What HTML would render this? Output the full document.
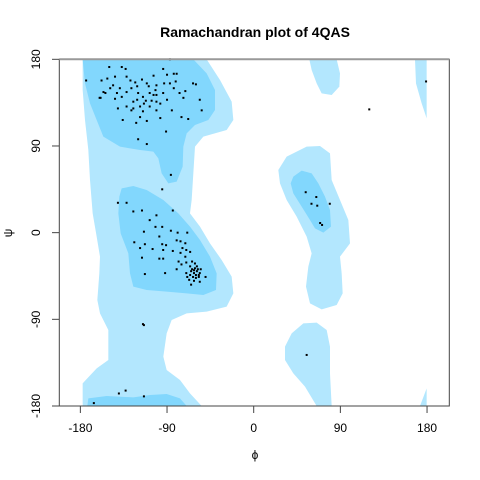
<!DOCTYPE html>
<html><head><meta charset="utf-8"><style>
body{margin:0;background:#fff}
svg{display:block;font-family:"Liberation Sans",Arial,sans-serif}
</style></head><body>
<svg id="chart" width="480" height="480" viewBox="0 0 480 480">
<text x="255" y="37" text-anchor="middle" font-size="14" font-weight="bold">Ramachandran plot of 4QAS</text>
<g transform="translate(0,40) scale(0.33333)">
<g fill="#b3e7fe">
<path d="M248,58 L620,58 L660,120 L695,185 L700,240 L680,270 L610,290 L585,320 L580,400 L575,480 L570,520 L600,560 L630,610 L665,660 L695,710 L700,760 L680,800 L620,815 L560,820 L515,840 L500,880 L490,950 L500,990 L540,1020 L570,1060 L605,1098 L248,1098 L248,1030 L290,985 L325,960 L325,870 L300,820 L292,780 L298,700 L300,650 L290,590 L278,520 L270,420 L265,330 L255,240 L248,150Z"/>
<path d="M1245,58 L1280,58 L1280,235 L1265,190 L1248,130Z"/>
<path d="M1260,1098 L1280,1045 L1280,1098Z"/>
<path d="M928,58 L1010,58 L1020,100 L1018,140 L995,165 L965,160 L950,130 L935,90Z"/>
<path d="M860,350 L920,320 L960,318 L990,340 L995,420 L1020,480 L1045,540 L1050,610 L1020,650 L1025,700 L1028,760 L1010,795 L965,808 L930,790 L918,740 L925,680 L935,640 L920,590 L890,530 L860,480 L840,430 L835,390Z"/>
<path d="M855,920 L875,880 L910,850 L950,848 L980,870 L990,920 L990,1000 L995,1098 L950,1098 L915,1040 L880,1000 L855,960Z"/>
</g>
<g fill="#82d7fd">
<path d="M248,58 L580,58 L620,100 L645,150 L645,210 L625,240 L585,255 L560,280 L550,320 L548,380 L530,425 L505,430 L485,400 L475,355 L460,335 L420,330 L360,320 L310,290 L290,240 L270,190 L255,130Z"/>
<path d="M365,445 L400,438 L440,450 L490,480 L535,520 L570,560 L600,600 L630,650 L650,700 L648,750 L610,765 L560,760 L500,755 L440,750 L400,740 L390,700 L385,640 L362,580 L355,520 L358,470Z"/>
<path d="M262,1098 L265,1075 L320,1068 L400,1072 L450,1065 L500,1062 L540,1075 L560,1098Z"/>
<path d="M880,410 L905,392 L935,400 L955,430 L975,470 L990,510 L993,560 L970,578 L945,565 L930,540 L905,500 L880,460 L872,430Z"/>
</g>
</g>
<g id="points"></g>
<g id="axes"></g>
<rect x="59.3" y="59.3" width="390" height="346.7" fill="none" stroke="#444" stroke-width="1"/>
<line x1="59.3" y1="59.3" x2="449.3" y2="59.3" stroke="#999" stroke-width="2"/>
<text x="255" y="459" text-anchor="middle" font-size="12">ϕ</text>
<text x="12" y="233" text-anchor="middle" font-size="12" transform="rotate(-90 12 233)">ψ</text>
</svg>
<script>
const phiValues=[-174,-158,-150,-137,-133,-152,-156,-160,-146,-142,-141,-136,-132,-128,-123,-121,-125,-122,-120,-111,-118,-114,-111,-109,-104,-101,-104,-101,-94,-90,-87,-83,-80,-81,-83,-77,-73,-71,-63,-60,-56,-54,-75,-68,-97,-91,-85,-94,-97,-108,-115,-127,-118,-115,-112,-108,-102,-132,-137,-144,-149,-154,-159,-86,-127,-121,-106,-90,-87,-132,-144,-101,-120,-111,-125,-116,-101,-93,-139,
-141,-132,-125,-116,-95,-84,-101,-108,-102,-95,-114,-86,-79,-69,-124,-118,-113,-105,-98,-95,-91,-94,-116,-98,-94,-113,-92,-84,-80,-76,-71,-74,-70,-66,-76,-71,-78,-75,-80,-70,
-66,-64,-62,-61,-59,-57,-63,-67,-65,-60,-56,-50,-56,-61,-64,-70,-69,-58,-62,-60,-65,-59,-55,-62,-66,-57,
-114,-115,-140,-133,-114,-166,55,54,60,65,66,69,71,79,120,179];
const psiValues=[158,158,172,172,170,160,146,140,153,145,129,117,131,158,156,152,136,114,97,92,120,134,116,152,163,153,143,136,170,164,180,165,165,157,150,145,140,147,155,154,138,127,120,118,119,105,127,145,134,131,126,127,131,141,137,145,148,146,141,139,150,145,140,60,150,138,137,138,155,162,162,127,145,155,129,159,143,155,150,
31,31,22,23,45,23,18,13,6,6,1,2,0,0,-10,-16,-12,-17,-4,-12,-13,-18,-26,-27,-27,-43,-42,-19,-8,-9,-11,-16,-18,-20,-21,-25,-30,-33,-38,-31,
-35,-38,-42,-37,-40,-44,-46,-49,-54,-47,-42,-46,-51,-32,-30,-42,-46,-38,-39,-44,-40,-35,-38,-50,-44,-46,
-96,-95,-167,-164,-170,-177,-127,42,30,37,28,10,8,30,128,157];
const xTicks=[-180,-90,0,90,180];
const yTicks=[-180,-90,0,90,180];
const NS="http://www.w3.org/2000/svg";
const xScale=p=>253.7+p*0.9630;
const yScale=q=>232.65-q*0.9630;
const pg=document.getElementById('points');
for(let i=0;i<phiValues.length;i++){
  const c=document.createElementNS(NS,'rect');
  c.setAttribute('x',xScale(phiValues[i])-1);
  c.setAttribute('y',yScale(psiValues[i])-1);
  c.setAttribute('width',2);c.setAttribute('height',2);
  c.setAttribute('fill','#000');
  
  
  pg.appendChild(c);
}
const ax=document.getElementById('axes');
function mk(tag,attrs,txt){const e=document.createElementNS(NS,tag);for(const k in attrs)e.setAttribute(k,attrs[k]);if(txt!==undefined)e.textContent=txt;ax.appendChild(e);return e;}
mk('line',{x1:xScale(-180),x2:xScale(180),y1:406,y2:406,stroke:'#444'});
xTicks.forEach(t=>{
  const l=mk('line',{x1:xScale(t),x2:xScale(t),y1:406,y2:413,stroke:'#444'});
  
  
  const s=mk('text',{x:xScale(t),y:432,'text-anchor':'middle','font-size':12},String(t));
  
  
});
yTicks.forEach(t=>{
  const l=mk('line',{x1:52,x2:59.3,y1:yScale(t),y2:yScale(t),stroke:'#444'});
  
  
  const y=yScale(t);
  const s=mk('text',{x:40,y:y,'text-anchor':'middle','font-size':12,transform:'rotate(-90 40 '+y+')'},String(t));
  
  
});
</script>
</body></html>
